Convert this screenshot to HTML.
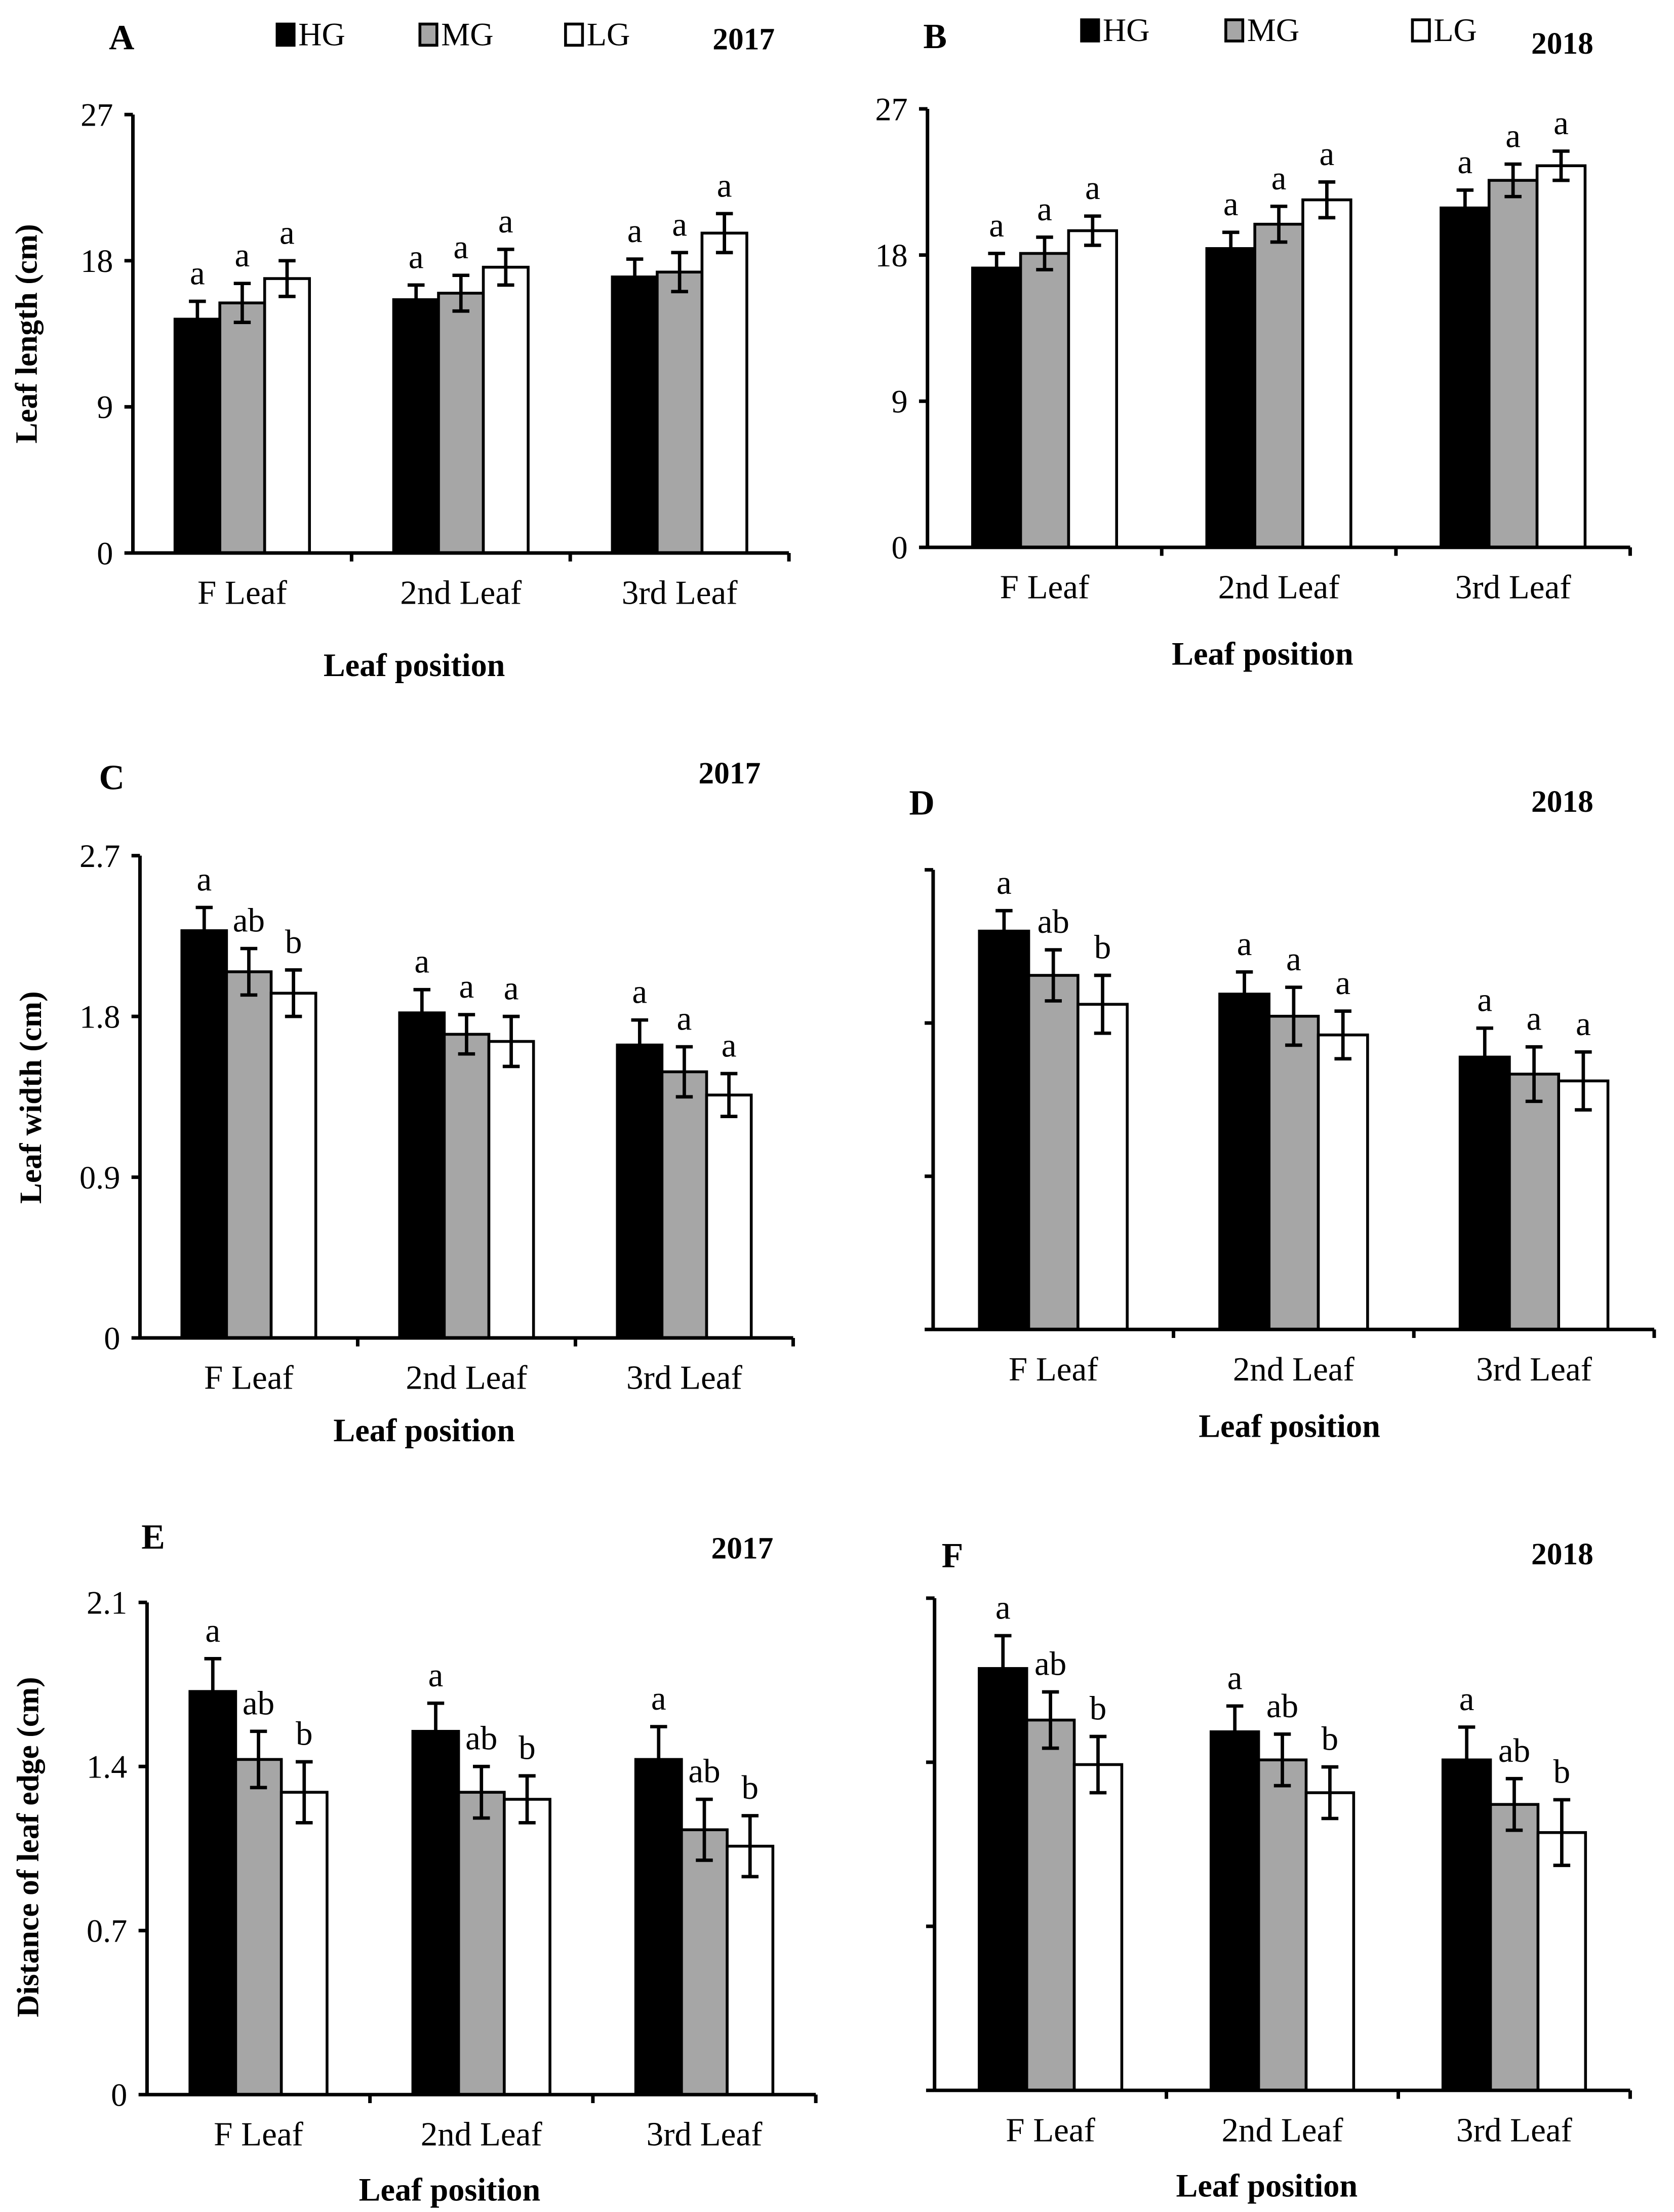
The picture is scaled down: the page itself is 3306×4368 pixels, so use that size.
<!DOCTYPE html>
<html><head><meta charset="utf-8"><style>
html,body{margin:0;padding:0;background:#fff;}
svg{display:block;}
text{font-family:"Liberation Serif",serif;fill:#000;}
</style></head><body>
<svg id="fig" width="3306" height="4368" viewBox="0 0 1184 1564" preserveAspectRatio="none" xmlns="http://www.w3.org/2000/svg"></svg>
<script>
// Categories
const categories = ["F Leaf","2nd Leaf","3rd Leaf"];
const seriesNames = ["HG","MG","LG"];
// Panel A (Leaf length 2017)
const aHG = [14.4,15.6,17.0];
const aMG = [15.4,16.0,17.3];
const aLG = [16.9,17.6,19.7];
const aHGerr = [1.1,0.9,1.1];
const aMGerr = [1.2,1.1,1.2];
const aLGerr = [1.1,1.1,1.2];
const aLetters = [["a","a","a"],["a","a","a"],["a","a","a"]];
// Panel B (Leaf length 2018)
const bHG = [17.2,18.4,20.9];
const bMG = [18.1,19.9,22.6];
const bLG = [19.5,21.4,23.5];
const bHGerr = [0.9,1.0,1.1];
const bMGerr = [1.0,1.1,1.0];
const bLGerr = [0.9,1.1,0.9];
const bLetters = [["a","a","a"],["a","a","a"],["a","a","a"]];
// Panel C (Leaf width 2017)
const cHG = [2.28,1.82,1.64];
const cMG = [2.05,1.70,1.49];
const cLG = [1.93,1.66,1.36];
const cHGerr = [0.13,0.13,0.14];
const cMGerr = [0.13,0.11,0.14];
const cLGerr = [0.13,0.14,0.12];
const cLetters = [["a","ab","b"],["a","a","a"],["a","a","a"]];
// Panel D (Leaf width 2018)
const dHG = [2.34,1.97,1.60];
const dMG = [2.08,1.84,1.50];
const dLG = [1.91,1.73,1.46];
const dHGerr = [0.12,0.13,0.17];
const dMGerr = [0.15,0.17,0.16];
const dLGerr = [0.17,0.14,0.17];
const dLetters = [["a","ab","b"],["a","a","a"],["a","a","a"]];
// Panel E (Leaf edge 2017)
const eHG = [1.72,1.55,1.43];
const eMG = [1.43,1.29,1.13];
const eLG = [1.29,1.26,1.06];
const eHGerr = [0.14,0.12,0.14];
const eMGerr = [0.12,0.11,0.13];
const eLGerr = [0.13,0.10,0.13];
const eLetters = [["a","ab","b"],["a","ab","b"],["a","ab","b"]];
// Panel F (Leaf edge 2018)
const fHG = [1.80,1.53,1.41];
const fMG = [1.58,1.41,1.22];
const fLG = [1.39,1.27,1.10];
const fHGerr = [0.14,0.11,0.14];
const fMGerr = [0.12,0.11,0.11];
const fLGerr = [0.12,0.11,0.14];
const fLetters = [["a","ab","b"],["a","ab","b"],["a","ab","b"]];
// Tick labels
const lengthTicks = ["0","9","18","27"];
const widthTicks = ["0","0.9","1.8","2.7"];
const edgeTicks = ["0","0.7","1.4","2.1"];
const lengthTickVals = [0,9,18,27];
const widthTickVals = [0,0.9,1.8,2.7];
const edgeTickVals = [0,0.7,1.4,2.1];

const svg = document.getElementById('fig');
const NS = 'http://www.w3.org/2000/svg';
function mk(tag, attrs, parent){
  const e = document.createElementNS(NS, tag);
  for (const k in attrs) e.setAttribute(k, attrs[k]);
  (parent||svg).appendChild(e);
  return e;
}
function txt(str, attrs, parent){ const t = mk('text', attrs, parent); t.textContent = str; return t; }

const fills = ['#000','#a6a6a6','#fff'];

function panel(cfg){
  const g = mk('g', {});
  
  
  const x0 = cfg.x0, x1 = cfg.x1, y0 = cfg.y0, yTop = cfg.yTop, max = cfg.max;
  const yS = v => y0 - (v / max) * (y0 - yTop);
  const gw = (x1 - x0) / 3;
  const bw = gw * 0.205;
  const off = (gw - 3 * bw) / 2;
  const xS = (ci, si) => x0 + ci * gw + off + si * bw;
  const series = [cfg.hg, cfg.mg, cfg.lg];
  const errs = [cfg.hge, cfg.mge, cfg.lge];
  for (let ci = 0; ci < 3; ci++) {
    for (let si = 0; si < 3; si++) {
      const v = series[si][ci], e = errs[si][ci];
      const bx = xS(ci, si), by = yS(v);
      const r = mk('rect', {x:bx, y:by, width:bw, height:y0-by, fill:fills[si], stroke:'#000', 'stroke-width':2}, g);
      
      
      const cx = bx + bw/2;
      const eg = mk('g', {stroke:'#000', 'stroke-width':2.4}, g);
      
      
      mk('line', {x1:cx, x2:cx, y1:yS(v+e), y2:(si===0?by:yS(v-e))}, eg);
      mk('line', {x1:cx-6, x2:cx+6, y1:yS(v+e), y2:yS(v+e)}, eg);
      if (si !== 0) mk('line', {x1:cx-6, x2:cx+6, y1:yS(v-e), y2:yS(v-e)}, eg);
      const lt = txt(cfg.letters[ci][si], {x:cx, y:yS(v+e)-12, 'font-size':24, 'text-anchor':'middle'}, g);
      
      
    }
  }
  const ax = mk('g', {stroke:'#000', 'stroke-width':2.5, fill:'none'}, g);
  
  
  mk('line', {x1:x0, x2:x0, y1:yTop, y2:y0+1}, ax);
  mk('line', {x1:x0, x2:x1, y1:y0, y2:y0}, ax);
  for (let i = 1; i <= 3; i++) mk('line', {x1:x0+i*gw, x2:x0+i*gw, y1:y0, y2:y0+6}, ax);
  cfg.tickVals.forEach((tv, i) => {
    mk('line', {x1:x0-6, x2:x0, y1:yS(tv), y2:yS(tv)}, ax);
    if (cfg.showTicks) {
      const t = txt(cfg.tickLabels[i], {x:x0-14, y:yS(tv)+8, 'font-size':23, 'text-anchor':'end'}, g);
      
      
    }
  });
  categories.forEach((c, ci) => {
    const t = txt(c, {x:x0+ci*gw+gw/2, y:y0+36, 'font-size':24, 'text-anchor':'middle'}, g);
    
    
  });
  const xt = txt('Leaf position', {x:cfg.xtX, y:cfg.xtY, 'font-size':23, 'font-weight':'bold', 'text-anchor':'middle'}, g);
  
  
  if (cfg.ytitle) {
    const yt = txt(cfg.ytitle, {x:0, y:0, 'font-size':22, 'font-weight':'bold', 'text-anchor':'middle', transform:'translate('+cfg.ytX+','+cfg.ytY+') rotate(-90)'}, g);
    
    
  }
  const pl = txt(cfg.id, {x:cfg.lx, y:cfg.ly, 'font-size':25, 'font-weight':'bold'}, g);
  
  
  const yr = txt(cfg.year, {x:cfg.yrX, y:cfg.yrY, 'font-size':22, 'font-weight':'bold', 'text-anchor':'end'}, g);
  
  
  if (cfg.legend) {
    const lg = mk('g', {}, g);
    
    
    cfg.legend.forEach((lx, si) => {
      const item = mk('g', {}, lg);
      
      
      mk('rect', {x:lx, y:cfg.legY-15, width:12, height:15, fill:fills[si], stroke:'#000', 'stroke-width':2}, item);
      txt(seriesNames[si], {x:lx+15, y:cfg.legY, 'font-size':23}, item);
    });
  }
}

panel({id:'A', year:'2017', x0:94, x1:558, y0:391, yTop:81, max:27, hg:aHG, mg:aMG, lg:aLG, hge:aHGerr, mge:aMGerr, lge:aLGerr, letters:aLetters,
  tickVals:lengthTickVals, tickLabels:lengthTicks, showTicks:true, xtX:293, xtY:478, ytitle:'Leaf length (cm)', ytX:26, ytY:236,
  lx:77, ly:35, yrX:548, yrY:35, legend:[196,297,400], legY:32});
panel({id:'B', year:'2018', x0:656, x1:1153, y0:387, yTop:77, max:27, hg:bHG, mg:bMG, lg:bLG, hge:bHGerr, mge:bMGerr, lge:bLGerr, letters:bLetters,
  tickVals:lengthTickVals, tickLabels:lengthTicks, showTicks:true, xtX:893, xtY:470, ytitle:null,
  lx:653, ly:34, yrX:1127, yrY:38, legend:[765,867,999], legY:29});
panel({id:'C', year:'2017', x0:99, x1:561, y0:946, yTop:605, max:2.7, hg:cHG, mg:cMG, lg:cLG, hge:cHGerr, mge:cMGerr, lge:cLGerr, letters:cLetters,
  tickVals:widthTickVals, tickLabels:widthTicks, showTicks:true, xtX:300, xtY:1019, ytitle:'Leaf width (cm)', ytX:29, ytY:776,
  lx:70, ly:558, yrX:538, yrY:554});
panel({id:'D', year:'2018', x0:660, x1:1170, y0:940, yTop:615, max:2.7, hg:dHG, mg:dMG, lg:dLG, hge:dHGerr, mge:dMGerr, lge:dLGerr, letters:dLetters,
  tickVals:widthTickVals, tickLabels:widthTicks, showTicks:false, xtX:912, xtY:1016, ytitle:null,
  lx:643, ly:576, yrX:1127, yrY:574});
panel({id:'E', year:'2017', x0:104, x1:577, y0:1481, yTop:1133, max:2.1, hg:eHG, mg:eMG, lg:eLG, hge:eHGerr, mge:eMGerr, lge:eLGerr, letters:eLetters,
  tickVals:edgeTickVals, tickLabels:edgeTicks, showTicks:true, xtX:318, xtY:1556, ytitle:'Distance of leaf edge (cm)', ytX:27, ytY:1306,
  lx:100, ly:1095, yrX:547, yrY:1102});
panel({id:'F', year:'2018', x0:661, x1:1153, y0:1478, yTop:1130, max:2.1, hg:fHG, mg:fMG, lg:fLG, hge:fHGerr, mge:fMGerr, lge:fLGerr, letters:fLetters,
  tickVals:edgeTickVals, tickLabels:edgeTicks, showTicks:false, xtX:896, xtY:1553, ytitle:null,
  lx:666, ly:1108, yrX:1127, yrY:1106});
</script>
</body></html>
